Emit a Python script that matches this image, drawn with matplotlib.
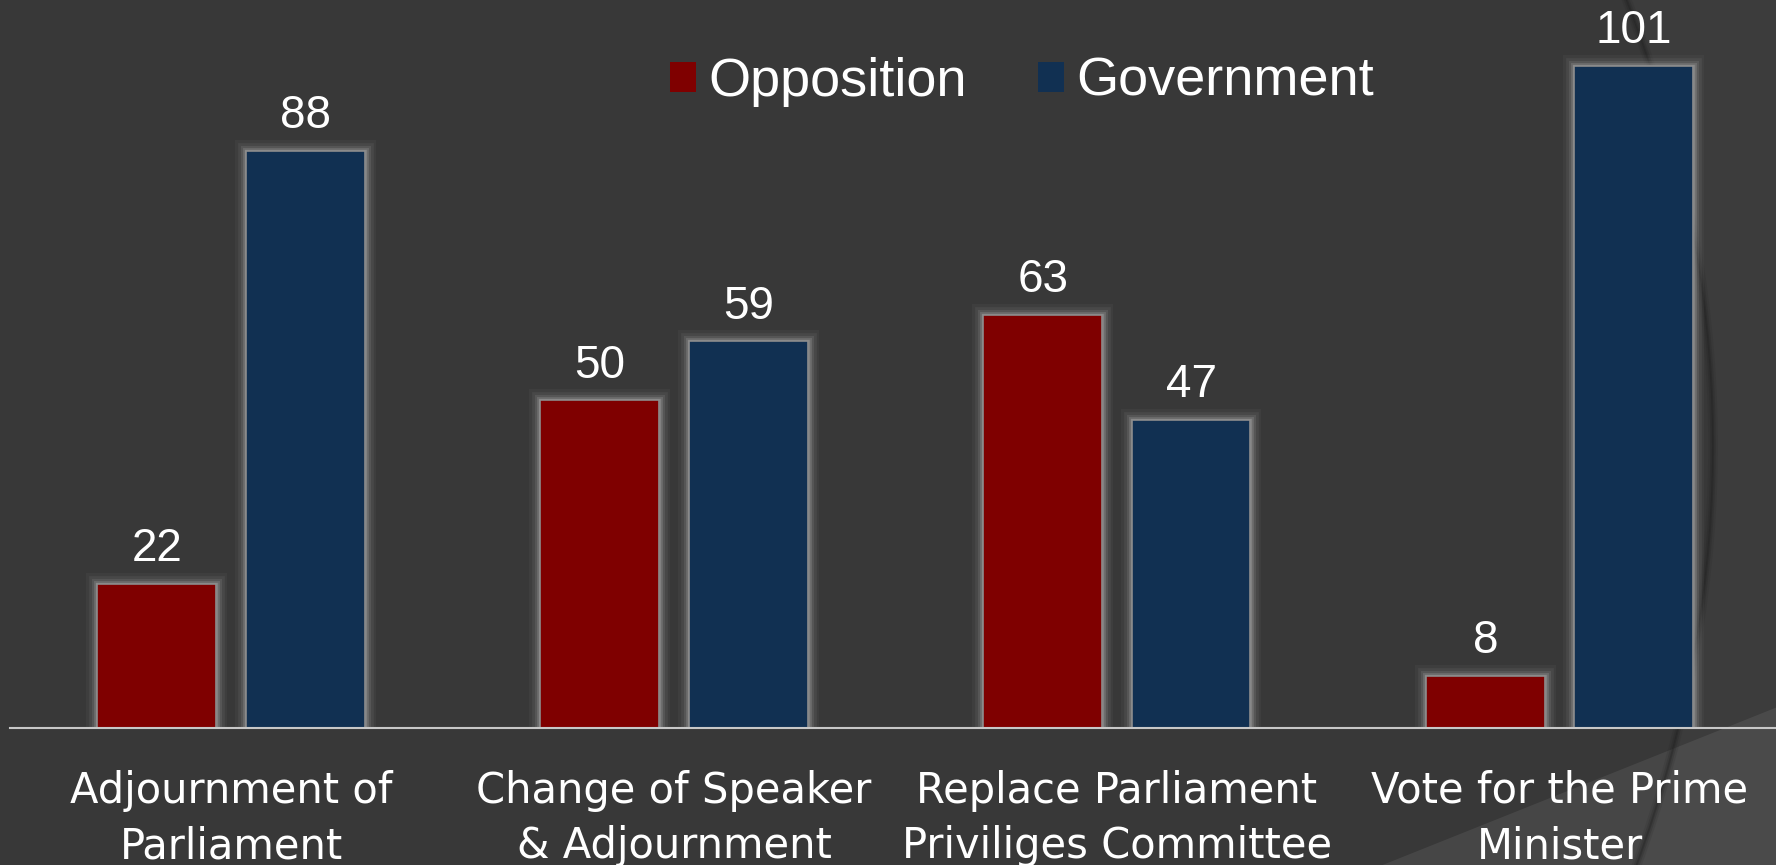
import numpy as np
import matplotlib
matplotlib.use('Agg')
import matplotlib.pyplot as plt
import matplotlib.patheffects as pe
from matplotlib.patches import Polygon, PathPatch, Patch
from matplotlib.path import Path

# chart data
categories = ['Adjournment of\nParliament', 'Change of Speaker\n& Adjournment',
              'Replace Parliament\nPriviliges Committee', 'Vote for the Prime\nMinister']
opposition = [22, 50, 63, 8]
government = [88, 59, 47, 101]
series_names = ['Opposition', 'Government']

BG = '#383838'
RED = '#7f0000'
NAVY = '#113052'

W, H = 1776, 865
fig = plt.figure(figsize=(W / 100, H / 100), dpi=100)
fig.patch.set_facecolor(BG)


def fx(px):
    return px / W


def fy(py):
    return 1 - py / H


# slide decoration behind the chart: lighter wedge bottom right and a soft arc
fig.patches.append(Polygon([(fx(1370), fy(870)), (fx(1780), fy(870)), (fx(1780), fy(706))],
                           closed=True, transform=fig.transFigure, facecolor='#464646',
                           edgecolor='none', zorder=-3))
arc_pts = [(fx(1626), fy(-2)), (fx(1795), fy(432)), (fx(1636), fy(867))]
side = Path(arc_pts + [(fx(1780), fy(867)), (fx(1780), fy(-2)), arc_pts[0]],
            [Path.MOVETO, Path.CURVE3, Path.CURVE3, Path.LINETO, Path.LINETO, Path.CLOSEPOLY])
fig.patches.append(PathPatch(side, transform=fig.transFigure, facecolor='white',
                             edgecolor='none', alpha=0.025, zorder=-2))
arc = Path(arc_pts, [Path.MOVETO, Path.CURVE3, Path.CURVE3])
for lw, a in [(7, 0.12), (4, 0.2), (1.5, 0.3)]:
    fig.patches.append(PathPatch(arc, transform=fig.transFigure, facecolor='none',
                                 edgecolor='#1e1e1e', lw=lw, alpha=a, zorder=-1))

ax = fig.add_axes([fx(9.6), fy(728.3), fx(1771.6), 728.3 / H])
ax.set_facecolor('none')
ax.set_xlim(-0.5, 3.5)
ax.set_ylim(0, 111)

x = np.arange(len(categories))
width = 0.2685
off = 0.1675

glow = [pe.Stroke(linewidth=lw, foreground='#b0b0b0', alpha=a)
        for lw, a in [(16, 0.05), (12, 0.09), (8, 0.14), (5, 0.22), (2.5, 0.35)]]
glow.append(pe.Normal())

b1 = ax.bar(x - off, opposition, width, color=RED, edgecolor='#8c8c8c', linewidth=1.2,
            label=series_names[0], zorder=3)
b2 = ax.bar(x + off, government, width, color=NAVY, edgecolor='#8c8c8c', linewidth=1.2,
            label=series_names[1], zorder=3)
for bars in (b1, b2):
    for rect in bars:
        rect.set_path_effects(glow)
    ax.bar_label(bars, padding=9, color='white', fontsize=33, family='Liberation Sans')

for s in ['left', 'right', 'top']:
    ax.spines[s].set_visible(False)
ax.spines['bottom'].set_color('#c8c8c8')
ax.spines['bottom'].set_linewidth(1.5)
ax.spines['bottom'].set_zorder(4)
ax.set_yticks([])
ax.set_xticks(x)
ax.set_xticklabels(categories, color='white', fontsize=30, family='DejaVu Sans')
for t in ax.get_xticklabels():
    t.set_linespacing(1.4)
ax.tick_params(axis='x', length=0, pad=30)

handles = [Patch(facecolor=RED, edgecolor='none'), Patch(facecolor=NAVY, edgecolor='none')]
leg = ax.legend(handles, series_names, loc='center', bbox_to_anchor=(fx(1022), fy(82)),
                bbox_transform=fig.transFigure, ncol=2, frameon=False,
                prop={'family': 'Liberation Sans', 'size': 39},
                handlelength=0.48, handleheight=0.48, handletextpad=0.24, columnspacing=1.3,
                borderpad=0)
for t in leg.get_texts():
    t.set_color('white')

fig.savefig('out.png', dpi=100, facecolor=BG)
